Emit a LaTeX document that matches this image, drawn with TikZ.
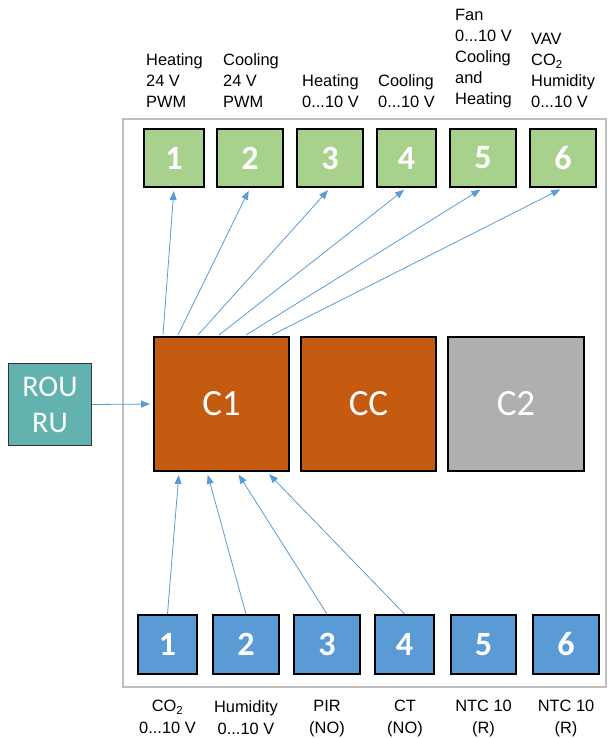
\documentclass[tikz,border=0pt]{standalone}
\usepackage{fontspec}
\setmainfont{Liberation Sans}
\newfontfamily\calib{Carlito}
\usetikzlibrary{arrows.meta,calc}
\definecolor{grn}{HTML}{A9D18E}
\definecolor{blu}{HTML}{5B9BD5}
\definecolor{org}{HTML}{C55A11}
\definecolor{gry}{HTML}{AFAFAF}
\definecolor{teal2}{HTML}{62B2B0}
\definecolor{frm}{HTML}{BFBFBF}
\definecolor{arr}{HTML}{5B9BD5}
\tikzset{
  box/.style={draw=black,line width=2pt,inner sep=0pt,text=white},
  numbox/.style={box,font=\calib\bfseries\fontsize{34}{34}\selectfont},
  bigbox/.style={box,font=\calib\fontsize{37}{37}\selectfont,minimum width=135pt,minimum height=134pt},
  lbl/.style={inner sep=0pt,align=left,font=\fontsize{16.4}{21}\selectfont,anchor=south west},
  blbl/.style={inner sep=0pt,align=center,font=\fontsize{16.4}{22}\selectfont,anchor=north},
  conn/.style={draw=arr,line width=0.8pt,-{Triangle[length=9pt,width=7pt]}},
}
\begin{document}
\begin{tikzpicture}[x=1pt,y=-1pt]
\useasboundingbox (0,0) rectangle (608,738);
% frame
\draw[frm,line width=1.5pt] (123,119) rectangle (606,687);
% green boxes
\foreach \n/\cx/\w in {1/174/60,2/250/66,3/330/66,4/406.5/59,5/483/66,6/563/66}
  \node[numbox,fill=grn,minimum width=\w pt,minimum height=58pt] (g\n) at (\cx,158) {\n};
% blue boxes
\foreach \n/\cx/\w in {1/167.5/59,2/246/66,3/327/66,4/404.5/59,5/483.5/65,6/566/66}
  \node[numbox,fill=blu,minimum width=\w pt,minimum height=59pt] (b\n) at (\cx,644.5) {\n};
% big boxes
\node[bigbox,fill=org] (C1) at (221.5,404) {C1};
\node[bigbox,fill=org] (CC) at (368.5,404) {CC};
\node[bigbox,fill=gry,minimum width=136pt] (C2) at (516,404) {C2};
% ROU
\node[draw=black!80,line width=1.2pt,fill=teal2,text=white,inner sep=0pt,minimum width=83pt,minimum height=82pt,align=center,font=\calib\fontsize{30}{36}\selectfont] (ROU) at (50,404.5) {ROU\\RU};
% top labels
\node[lbl] (t1) at (146,108) {Heating\\24 V\\PWM};
\node[lbl] (t2) at (223,108) {Cooling\\24 V\\PWM};
\node[lbl] (t3) at (302,108) {Heating\\0...10 V};
\node[lbl] (t4) at (378,108) {Cooling\\0...10 V};
\node[lbl] (t5) at (455,108) {Fan\\0...10 V\\Cooling\\and\\Heating};
\node[lbl] (t6) at (531,108) {VAV\\CO\textsubscript{2}\\Humidity\\0...10 V};
% bottom labels
\node[blbl] (l1) at (167.5,700) {CO\textsubscript{2}\\0...10 V};
\node[blbl] (l2) at (246,700) {Humidity\\0...10 V};
\node[blbl] (l3) at (327,700) {PIR\\(NO)};
\node[blbl] (l4) at (405,700) {CT\\(NO)};
\node[blbl] (l5) at (483.5,700) {NTC 10\\(R)};
\node[blbl] (l6) at (566,700) {NTC 10\\(R)};
% arrows C1 -> green
\foreach \n/\dx in {1/10,2/25,3/45,4/66,5/93,6/119}
  \draw[conn,shorten >=3pt] ($(C1.north west)+(\dx,-1)$) -- (g\n.south);
% arrows blue -> C1
\foreach \n/\dx in {1/26,2/54,3/84,4/114}
  \draw[conn,shorten >=3pt] (b\n.north) -- ($(C1.south west)+(\dx,0)$);
% ROU -> C1
\draw[conn,shorten >=3pt] (ROU.east) -- (C1.west);
\end{tikzpicture}
\end{document}
